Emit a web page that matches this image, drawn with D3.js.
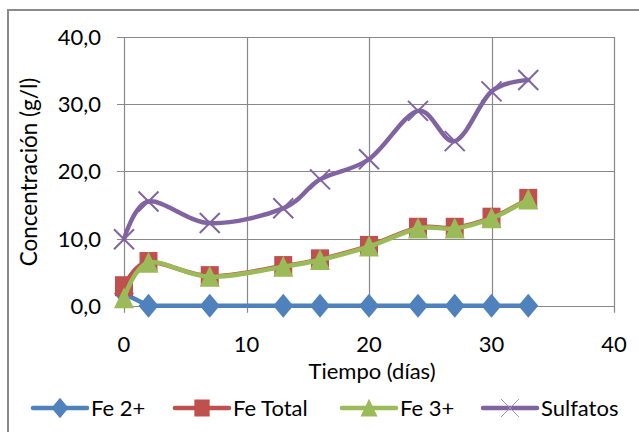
<!DOCTYPE html>
<html>
<head>
<meta charset="utf-8">
<script src="https://cdn.jsdelivr.net/npm/d3@7"></script>
<style>
  body { margin: 0; background: #fff; }
  text { font-family: Lato, "Open Sans", sans-serif; fill: #000; }
</style>
</head>
<body>
<script>
// Data
var days = [0, 2, 7, 13, 16, 20, 24, 27, 30, 33]
var fe2 = [1.8, 0, 0, 0, 0, 0, 0, 0, 0, 0]
var feTotal = [2.9, 6.5, 4.4, 5.9, 6.9, 8.9, 11.6, 11.6, 13.1, 15.9]
var fe3 = [1.1, 6.4, 4.3, 5.8, 6.8, 8.8, 11.5, 11.5, 13.0, 15.8]
var sulfatos = [9.9, 15.5, 12.3, 14.5, 18.8, 21.8, 29.0, 24.5, 31.9, 33.6]
var yTicks = [0, 10, 20, 30, 40]
var xTicks = [0, 10, 20, 30, 40]
var seriesNames = ["Fe 2+", "Fe Total", "Fe 3+", "Sulfatos"]

// Series setup
var series = [
  {name: seriesNames[0], values: fe2, color: "#4f81bd", marker: "diamond", smooth: false},
  {name: seriesNames[1], values: feTotal, color: "#c0504d", marker: "square", smooth: true},
  {name: seriesNames[2], values: fe3, color: "#9bbb59", marker: "triangle", smooth: true},
  {name: seriesNames[3], values: sulfatos, color: "#8064a2", marker: "cross", smooth: true}
]

var svgW = 639
var svgH = 432
var plotLeft = 124
var plotRight = 614
var plotTop = 37
var plotBottom = 305.7
var gridColor = "#888888"

var svg = d3.select("body").append("svg")
            .attr("width", svgW)
            .attr("height", svgH)

// Outer chart frame (cut off at right and bottom)
svg.append("path")
   .attr("d", "M8," + (svgH + 5) + "V10H" + (svgW + 5))
   .attr("fill", "none")
   .attr("stroke", "#8a8a8a")
   .attr("stroke-width", 2)

var xScale = d3.scaleLinear().domain([0, 40]).range([plotLeft, plotRight])
var yScale = d3.scaleLinear().domain([0, 40]).range([plotBottom, plotTop])

// Gridlines
svg.append("g").selectAll("line")
   .data(yTicks)
   .enter().append("line")
     .attr("x1", plotLeft - 7)
     .attr("x2", plotRight)
     .attr("y1", function(d) { return Math.round(yScale(d)) + 0.5 })
     .attr("y2", function(d) { return Math.round(yScale(d)) + 0.5 })
     .attr("stroke", gridColor)
     .attr("stroke-width", 1.2)

svg.append("g").selectAll("line")
   .data(xTicks)
   .enter().append("line")
     .attr("x1", function(d) { return Math.round(xScale(d)) + 0.5 })
     .attr("x2", function(d) { return Math.round(xScale(d)) + 0.5 })
     .attr("y1", plotTop)
     .attr("y2", plotBottom + 7)
     .attr("stroke", gridColor)
     .attr("stroke-width", 1.2)

// Tick labels
svg.append("g").selectAll("text")
   .data(yTicks)
   .enter().append("text")
     .attr("x", 101)
     .attr("y", function(d) { return yScale(d) + 8 })
     .attr("text-anchor", "end")
     .style("font-size", "22px")
     .text(function(d) { return d3.format(".1f")(d).replace(".", ",") })

svg.append("g").selectAll("text")
   .data(xTicks)
   .enter().append("text")
     .attr("x", function(d) { return xScale(d) })
     .attr("y", 352)
     .attr("text-anchor", "middle")
     .style("font-size", "22px")
     .text(function(d) { return d })

// Axis titles
svg.append("text")
   .attr("x", 372)
   .attr("y", 379)
   .attr("text-anchor", "middle")
   .style("font-size", "22px")
   .text("Tiempo (días)")

svg.append("text")
   .attr("transform", "translate(37,172) rotate(-90)")
   .attr("text-anchor", "middle")
   .style("font-size", "22.5px")
   .text("Concentración (g/l)")

// Marker drawing
function drawMarker(g, type, color, size) {
  var s = size
  if (type == "diamond") {
    g.append("path")
     .attr("d", "M0," + (-s * 0.6) + "L" + (s * 0.5) + ",0L0," + (s * 0.6) + "L" + (-s * 0.5) + ",0Z")
     .attr("fill", color)
  } else if (type == "square") {
    g.append("rect")
     .attr("x", -s * 0.45).attr("y", -s * 0.5)
     .attr("width", s * 0.9).attr("height", s)
     .attr("fill", color)
  } else if (type == "triangle") {
    g.append("path")
     .attr("d", "M0," + (-s * 0.55) + "L" + (s * 0.5) + "," + (s * 0.5) + "L" + (-s * 0.5) + "," + (s * 0.5) + "Z")
     .attr("fill", color)
  } else if (type == "cross") {
    var h = s * 0.5
    g.append("path")
     .attr("d", "M" + (-h) + "," + (-h) + "L" + h + "," + h + "M" + (-h) + "," + h + "L" + h + "," + (-h))
     .attr("stroke", color)
     .attr("stroke-width", 2)
     .attr("fill", "none")
  }
}

// Draw series
series.forEach(function(s) {
  var pts = days.map(function(d, i) { return [d, s.values[i]] })
  var line = d3.line()
               .x(function(d) { return xScale(d[0]) })
               .y(function(d) { return yScale(d[1]) })
               .curve(s.smooth ? d3.curveCatmullRom.alpha(0) : d3.curveLinear)
  var g = svg.append("g")
  g.append("path")
   .attr("d", line(pts))
   .attr("fill", "none")
   .attr("stroke", s.color)
   .attr("stroke-width", 4.5)
   .attr("stroke-linejoin", "round")
   .attr("stroke-linecap", "round")
  pts.forEach(function(p) {
    var m = g.append("g")
             .attr("transform", "translate(" + xScale(p[0]) + "," + yScale(p[1]) + ")")
    drawMarker(m, s.marker, s.color, 20)
  })
})

// Legend
var legendX = [33, 175, 342, 483]
var legendY = 408
series.forEach(function(s, i) {
  var g = svg.append("g").attr("transform", "translate(" + legendX[i] + "," + legendY + ")")
  g.append("line")
   .attr("x1", 0).attr("x2", 54)
   .attr("stroke", s.color)
   .attr("stroke-width", 4.5)
   .attr("stroke-linecap", "round")
  var m = g.append("g").attr("transform", "translate(27,0)")
  if (s.marker == "cross") {
    m.append("path")
     .attr("d", "M-9,-9L9,9M-9,9L9,-9")
     .attr("stroke", "#a08cc0")
     .attr("stroke-width", 1)
  } else {
    drawMarker(m, s.marker, s.color, 17)
  }
  g.append("text")
   .attr("x", 58)
   .attr("y", 8)
   .style("font-size", "22px")
   .text(s.name)
})
</script>
</body>
</html>
